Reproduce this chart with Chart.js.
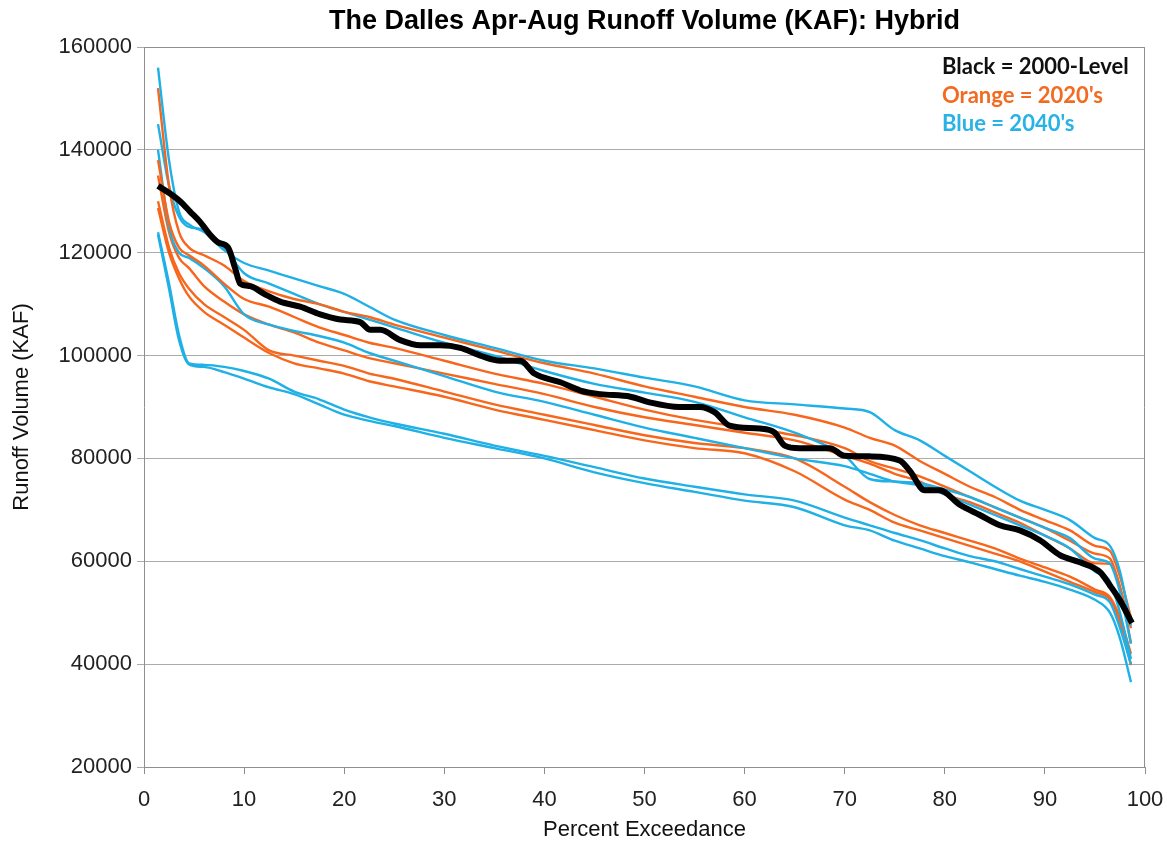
<!DOCTYPE html>
<html>
<head>
<meta charset="utf-8">
<title>The Dalles Apr-Aug Runoff Volume</title>
<script src="https://cdn.jsdelivr.net/npm/chart.js@4.4.1/dist/chart.umd.min.js"></script>
<style>
	html, body { margin: 0; padding: 0; background: #fff; }
	#wrap { position: relative; width: 1167px; height: 844px; }
	#note {
		position: absolute; left: 942px; top: 52px;
		font-family: Lato, "Open Sans", sans-serif; font-weight: bold;
		font-size: 22px; line-height: 28.5px; white-space: nowrap;
	}
</style>
</head>
<body>
<div id="wrap">
	<canvas id="chart"></canvas>
	<div id="note">
		<div style="color:#111">Black = 2000-Level</div>
		<div style="color:#f26b21">Orange = 2020's</div>
		<div style="color:#29b2e6">Blue = 2040's</div>
	</div>
</div>
<script>
// percent exceedance grid shared by the 2020's / 2040's runs
const gridX = [1.4, 2.5, 3.5, 4.5, 6, 8, 10, 12.5, 15, 17.5, 20, 22.5, 25, 30, 35, 40, 45, 50, 55, 60, 65, 70, 72.5, 75, 77.5, 80, 82.5, 85, 87.5, 90, 92.5, 95, 96.5, 97.5, 98.6];

// 2000-level (black)
const blackX = [1.4, 2.6, 3.6, 4.6, 5.6, 6.6, 7.4, 8.4, 9.1, 9.6, 10.6, 12, 13.6, 15.6, 17.6, 19.6, 21.6, 22.6, 23.6, 25.6, 27.6, 29.6, 31.6, 33.6, 35.6, 37.6, 39, 41.6, 43.6, 45.6, 48.6, 50.5, 53.5, 55.5, 57, 58.5, 61.5, 63, 64, 65.5, 68.5, 70, 72.5, 75.5, 76.5, 78, 79.5, 81.5, 83.5, 85.5, 87.5, 89.5, 91.5, 93.5, 95.5, 96.5, 97.5, 98.7];
const blackY = [133000, 131500, 130000, 128000, 126000, 123500, 122000, 121000, 117000, 114000, 113500, 112000, 110500, 109500, 108000, 107000, 106500, 105000, 105000, 103000, 102000, 102000, 101500, 100000, 99000, 99000, 96500, 94800, 93200, 92500, 92000, 90900, 90000, 90000, 89000, 86400, 85800, 85000, 82500, 82000, 82000, 80500, 80400, 79600, 77600, 73800, 73800, 71000, 69000, 67000, 66000, 64100, 61200, 59800, 57900, 55300, 52400, 48000];

// 2020's (orange)
const orange1 = [152000, 133000, 124000, 121000, 119500, 117500, 114500, 112500, 111000, 110000, 108500, 107500, 106000, 103500, 101000, 98500, 96500, 94000, 92000, 90000, 88500, 86000, 84000, 82500, 79500, 77000, 74500, 72500, 70000, 68000, 66000, 63000, 62000, 57000, 49000];
const orange2 = [138000, 126000, 121000, 119500, 117500, 114000, 111000, 109500, 107500, 105500, 104000, 102500, 101500, 99000, 96500, 94500, 92000, 89500, 87500, 86000, 84500, 82000, 79500, 78000, 76500, 74500, 72500, 70500, 68500, 66500, 64000, 61500, 60500, 55000, 47000];
const orange3 = [135000, 124000, 119000, 117000, 113500, 110500, 108000, 106000, 104500, 102500, 101000, 99500, 98500, 96500, 94500, 92500, 90000, 88000, 86500, 85000, 83500, 80500, 79000, 77000, 75500, 73000, 71500, 69500, 67500, 65000, 62500, 59600, 59500, 55000, 44000];
const orange4 = [130000, 121000, 116000, 113000, 110000, 107500, 105000, 101000, 100000, 99000, 98000, 96500, 95500, 93000, 90500, 88500, 86500, 84500, 83000, 82000, 80000, 74500, 71500, 69000, 67000, 65500, 64000, 62500, 60500, 58800, 57000, 54500, 53000, 49000, 42000];
const orange5 = [128700, 120000, 115000, 111500, 108500, 106000, 103500, 100500, 98500, 97500, 96500, 95000, 94000, 92000, 89500, 87500, 85500, 83500, 82000, 81000, 77500, 72000, 70000, 67500, 66000, 64500, 63000, 61500, 60000, 58000, 56000, 54000, 52500, 48000, 39800];

// 2040's (blue)
const blue1 = [156000, 138000, 128000, 125500, 124000, 120500, 118000, 116500, 115000, 113500, 112000, 109500, 107000, 104000, 101500, 99000, 97500, 95700, 94000, 91300, 90500, 89700, 89000, 85500, 83500, 80500, 77500, 74500, 71800, 70000, 68000, 64500, 63000, 58000, 47500];
const blue2 = [145000, 133000, 127000, 125000, 124500, 121000, 116000, 114000, 112000, 110000, 108500, 107000, 105500, 102500, 100000, 97000, 94500, 92800, 91000, 88000, 85000, 80500, 76000, 75500, 75200, 74000, 72500, 70500, 68500, 66500, 64500, 60500, 59500, 54000, 44000];
const blue3 = [140000, 125000, 120000, 119000, 117000, 113500, 108000, 106000, 104800, 103800, 102500, 100500, 99000, 96000, 93000, 91000, 88500, 86000, 84000, 82000, 80000, 78500, 77000, 75500, 74800, 73000, 71000, 69000, 67000, 65000, 62500, 58000, 56000, 50000, 41000];
const blue4 = [124000, 114000, 104000, 98500, 98200, 97800, 97000, 95500, 93000, 91500, 89500, 88000, 86800, 84800, 82500, 80500, 78300, 76100, 74500, 73000, 71800, 68500, 67000, 65500, 64100, 62500, 61000, 60000, 58500, 57000, 55500, 53500, 52000, 47000, 40000];
const blue5 = [123500, 113000, 103000, 98300, 97800, 96800, 95500, 93800, 92500, 90500, 88500, 87300, 86300, 84000, 82000, 80000, 77300, 75200, 73500, 71800, 70500, 67000, 66000, 64000, 62500, 61000, 59800, 58500, 57200, 56000, 54500, 52500, 50000, 45000, 36500];

const xTicks = [0, 10, 20, 30, 40, 50, 60, 70, 80, 90, 100];
const yTicks = [20000, 40000, 60000, 80000, 100000, 120000, 140000, 160000];

const ORANGE = '#f8661c';
const BLUE = '#1fb0e6';

function pts( xs, ys ) {
	return xs.map( ( x, i ) => ( { x: x, y: ys[ i ] } ) );
}

function runLine( label, ys, color ) {
	return {
		label: label,
		data: pts( gridX, ys ),
		borderColor: color,
		borderWidth: 2.4,
		pointRadius: 0,
		cubicInterpolationMode: 'monotone',
		fill: false,
	};
}

const plotBorder = {
	id: 'plotBorder',
	afterDraw( chart ) {
		const { ctx, chartArea: a } = chart;
		ctx.save();
		ctx.strokeStyle = '#8f8f8f';
		ctx.lineWidth = 1;
		ctx.beginPath();
		ctx.moveTo( a.left, a.top + 0.5 );
		ctx.lineTo( a.right - 0.5, a.top + 0.5 );
		ctx.lineTo( a.right - 0.5, a.bottom );
		ctx.stroke();
		ctx.restore();
	},
};

const tickFont = { family: '"Liberation Sans Narrow", "Liberation Sans", Arial, sans-serif', size: 22 };

new Chart( document.getElementById( 'chart' ), {
	type: 'line',
	data: {
		datasets: [
			{
				label: '2000-Level',
				data: pts( blackX, blackY ),
				borderColor: '#000',
				borderWidth: 6,
				pointRadius: 0,
				cubicInterpolationMode: 'monotone',
				fill: false,
			},
			runLine( "2040's A", blue1, BLUE ),
			runLine( "2020's A", orange1, ORANGE ),
			runLine( "2040's B", blue2, BLUE ),
			runLine( "2020's B", orange2, ORANGE ),
			runLine( "2040's C", blue3, BLUE ),
			runLine( "2020's C", orange3, ORANGE ),
			runLine( "2040's D", blue4, BLUE ),
			runLine( "2020's D", orange4, ORANGE ),
			runLine( "2040's E", blue5, BLUE ),
			runLine( "2020's E", orange5, ORANGE ),
		],
	},
	options: {
		responsive: true,
		maintainAspectRatio: false,
		animation: false,
		layout: { padding: { left: 0, right: 22, top: 0, bottom: 0 } },
		plugins: {
			legend: { display: false },
			tooltip: { enabled: false },
			title: {
				display: true,
				fullSize: false,
				text: 'The Dalles Apr-Aug Runoff Volume (KAF): Hybrid',
				color: '#000',
				font: { family: '"Liberation Sans Narrow", "Liberation Sans", Arial, sans-serif', size: 27, weight: 'bold', lineHeight: 1.2 },
				padding: { top: 5, bottom: 9.6 },
			},
		},
		scales: {
			x: {
				type: 'linear',
				min: 0,
				max: 100,
				afterBuildTicks( scale ) {
					scale.ticks = xTicks.map( ( v ) => ( { value: v } ) );
				},
				afterFit( scale ) {
					scale.height = 77;
					scale.paddingLeft = 0;
					scale.paddingRight = 0;
				},
				grid: { drawOnChartArea: false, color: '#8f8f8f', tickLength: 7 },
				border: { color: '#8f8f8f' },
				ticks: { color: '#222', font: tickFont, padding: 13, maxRotation: 0 },
				title: {
					display: true,
					text: 'Percent Exceedance',
					color: '#111',
					font: { family: '"Liberation Sans", Arial, sans-serif', size: 22 },
					padding: { top: 0, bottom: 1 },
				},
			},
			y: {
				type: 'linear',
				min: 20000,
				max: 160000,
				afterBuildTicks( scale ) {
					scale.ticks = yTicks.map( ( v ) => ( { value: v } ) );
				},
				afterFit( scale ) {
					scale.width = 144;
				},
				grid: { color: '#ababab', tickLength: 7 },
				border: { color: '#8f8f8f' },
				ticks: { color: '#222', font: tickFont, padding: 5, callback: ( v ) => String( v ) },
				title: {
					display: true,
					text: 'Runoff Volume (KAF)',
					color: '#111',
					font: { family: '"Liberation Sans", Arial, sans-serif', size: 22 },
					padding: { top: 9, bottom: 0 },
				},
			},
		},
	},
	plugins: [ plotBorder ],
} );
</script>
</body>
</html>
